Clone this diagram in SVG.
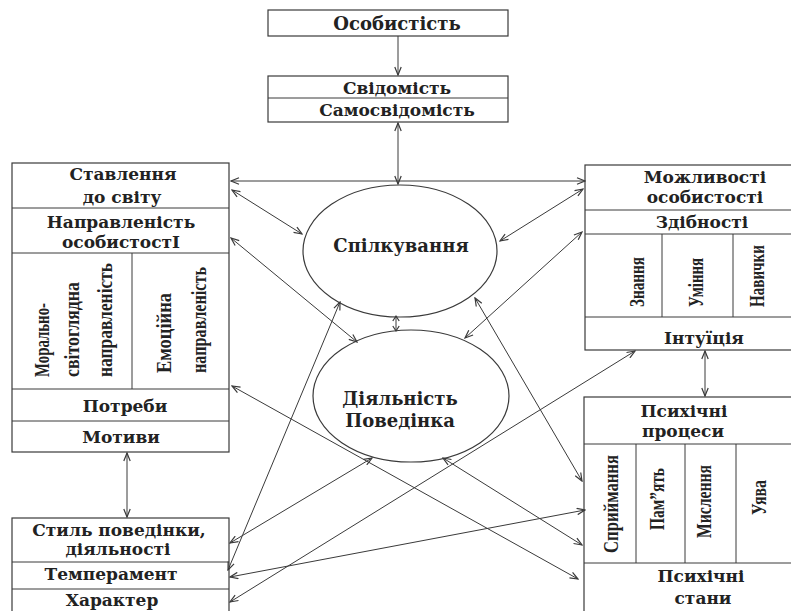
<svg xmlns="http://www.w3.org/2000/svg" width="791" height="611" viewBox="0 0 791 611">
<style>
.b{fill:none;stroke:#3a3a3a;stroke-width:1.2}
.d{stroke:#3a3a3a;stroke-width:1}
.t{font-family:"DejaVu Serif","Liberation Serif",serif;font-weight:bold;font-size:17px;text-anchor:middle;fill:#222}
.v{font-family:"Liberation Serif",serif;font-weight:bold;font-size:21px;fill:#222}
.c path{fill:none;stroke:#3a3a3a;stroke-width:1;marker-start:url(#a);marker-end:url(#a)}
</style>
<defs>
<marker id="a" markerWidth="10" markerHeight="8" refX="9" refY="4" orient="auto-start-reverse" markerUnits="userSpaceOnUse">
<path d="M1,0.8 L9,4 L1,7.2" fill="none" stroke="#3a3a3a" stroke-width="1.2"/>
</marker>
<marker id="s" markerWidth="8" markerHeight="8" refX="6" refY="4" orient="auto-start-reverse" markerUnits="userSpaceOnUse">
<path d="M1,0.8 L6,4 L1,7.2" fill="none" stroke="#3a3a3a" stroke-width="1.2"/>
</marker>
</defs>
<rect width="791" height="611" fill="#fff"/>

<g id="osobystist">
<rect class="b" x="268" y="10" width="240" height="26"/>
<text class="t" x="397" y="30" style="font-size:18px">Особистість</text>
</g>

<g id="svidomist">
<rect class="b" x="268" y="76" width="240" height="46"/>
<line class="d" x1="268" y1="98" x2="508" y2="98"/>
<text class="t" x="397" y="94">Свідомість</text>
<text class="t" x="397" y="116">Самосвідомість</text>
</g>

<g id="left-box">
<rect class="b" x="12" y="163" width="217" height="289"/>
<line class="d" x1="12" y1="208" x2="229" y2="208"/>
<line class="d" x1="12" y1="253" x2="229" y2="253"/>
<line class="d" x1="12" y1="389" x2="229" y2="389"/>
<line class="d" x1="12" y1="421" x2="229" y2="421"/>
<line class="d" x1="132" y1="253" x2="132" y2="389"/>
<text class="t" x="123" y="180">Ставлення</text>
<text class="t" x="122" y="203">до світу</text>
<text class="t" x="121" y="228">Направленість</text>
<text class="t" x="121" y="248">особистостІ</text>
<text class="v" transform="translate(43,377) rotate(-90)" y="6" textLength="74" lengthAdjust="spacingAndGlyphs">Морально-</text>
<text class="v" transform="translate(73,377) rotate(-90)" y="6" textLength="95" lengthAdjust="spacingAndGlyphs">світоглядна</text>
<text class="v" transform="translate(106,377) rotate(-90)" y="6" textLength="114" lengthAdjust="spacingAndGlyphs">направленість</text>
<text class="v" transform="translate(165,373) rotate(-90)" y="6" textLength="80" lengthAdjust="spacingAndGlyphs">Емоційна</text>
<text class="v" transform="translate(200,373) rotate(-90)" y="6" textLength="106" lengthAdjust="spacingAndGlyphs">направленість</text>
<text class="t" x="125" y="412">Потреби</text>
<text class="t" x="121" y="443">Мотиви</text>
</g>

<g id="right-box">
<rect class="b" x="585" y="165" width="215" height="185"/>
<line class="d" x1="585" y1="210" x2="800" y2="210"/>
<line class="d" x1="585" y1="234" x2="800" y2="234"/>
<line class="d" x1="585" y1="317" x2="800" y2="317"/>
<line class="d" x1="662" y1="234" x2="662" y2="317"/>
<line class="d" x1="733" y1="234" x2="733" y2="317"/>
<text class="t" x="705" y="183">Можливості</text>
<text class="t" x="705" y="203">особистості</text>
<text class="t" x="702" y="228">Здібності</text>
<text class="v" transform="translate(638,307) rotate(-90)" y="6" textLength="50" lengthAdjust="spacingAndGlyphs">Знання</text>
<text class="v" transform="translate(697,307) rotate(-90)" y="6" textLength="49" lengthAdjust="spacingAndGlyphs">Уміння</text>
<text class="v" transform="translate(758,307) rotate(-90)" y="6" textLength="62" lengthAdjust="spacingAndGlyphs">Навички</text>
<text class="t" x="704" y="344">Інтуїція</text>
</g>

<g id="psych-box">
<rect class="b" x="584" y="397" width="216" height="230"/>
<line class="d" x1="584" y1="444" x2="800" y2="444"/>
<line class="d" x1="584" y1="563" x2="800" y2="563"/>
<line class="d" x1="636" y1="444" x2="636" y2="563"/>
<line class="d" x1="685" y1="444" x2="685" y2="563"/>
<line class="d" x1="736" y1="444" x2="736" y2="563"/>
<text class="t" x="684" y="417">Психічні</text>
<text class="t" x="683" y="437">процеси</text>
<text class="v" transform="translate(612,553) rotate(-90)" y="6" textLength="98" lengthAdjust="spacingAndGlyphs">Сприймання</text>
<text class="v" transform="translate(658,530) rotate(-90)" y="6" textLength="62" lengthAdjust="spacingAndGlyphs">Пам”ять</text>
<text class="v" transform="translate(705,538) rotate(-90)" y="6" textLength="73" lengthAdjust="spacingAndGlyphs">Мислення</text>
<text class="v" transform="translate(760,515) rotate(-90)" y="6" textLength="35" lengthAdjust="spacingAndGlyphs">Уява</text>
<text class="t" x="701" y="582">Психічні</text>
<text class="t" x="703" y="604">стани</text>
</g>

<g id="style-box">
<rect class="b" x="12" y="518" width="217" height="110"/>
<line class="d" x1="12" y1="562" x2="229" y2="562"/>
<line class="d" x1="12" y1="589" x2="229" y2="589"/>
<text class="t" x="119" y="536">Стиль поведінки,</text>
<text class="t" x="118" y="555">діяльності</text>
<text class="t" x="111" y="580">Темперамент</text>
<text class="t" x="112" y="606">Характер</text>
</g>

<g id="spilkuvannia">
<ellipse class="b" cx="400" cy="251" rx="97" ry="66"/>
<text class="t" x="401" y="252" style="font-size:18px">Спілкування</text>
</g>

<g id="diialnist">
<ellipse class="b" cx="411" cy="396" rx="98" ry="66"/>
<text class="t" x="400" y="405" style="font-size:18px">Діяльність</text>
<text class="t" x="400" y="427" style="font-size:18px">Поведінка</text>
</g>

<g id="connectors" class="c">
<path d="M398,36 L398,75" style="marker-start:none"/>
<path d="M398,123 L398,184"/>
<path d="M231,181 L585,181"/>
<path d="M232,190 L302,234"/>
<path d="M500,241 L583,189"/>
<path d="M231,238 L357,342"/>
<path d="M582,232 L465,338"/>
<path d="M232,386 L578,579"/>
<path d="M340,302 L228,570"/>
<path d="M475,298 L582,481"/>
<path d="M372,458 L230,543"/>
<path d="M443,458 L582,545"/>
<path d="M635,351 L230,602"/>
<path d="M585,510 L230,577"/>
<path d="M396,316 L396,331" style="marker-start:url(#s);marker-end:url(#s)"/>
<path d="M127,453 L127,517"/>
<path d="M705,351 L705,396"/>
</g>
</svg>
